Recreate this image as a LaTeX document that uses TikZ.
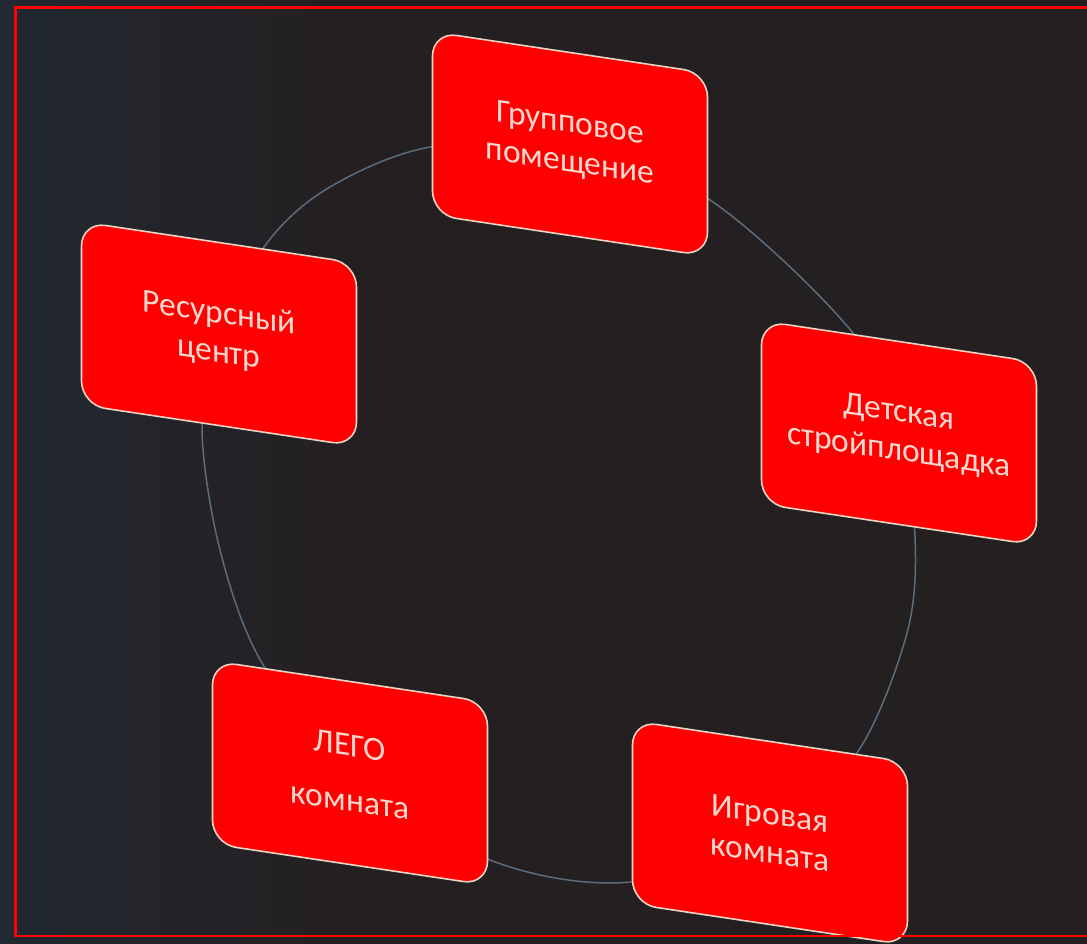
\documentclass[tikz,border=0pt]{standalone}
\usepackage{fontspec}
\setmainfont{Carlito}
\pgfdeclarelayer{bg}
\pgfsetlayers{bg,main}
\definecolor{bgmain}{RGB}{36,32,34}
\definecolor{bgblue}{RGB}{34,41,50}
\definecolor{boxred}{RGB}{255,0,0}
\definecolor{boxedge}{RGB}{238,212,196}
\definecolor{txtpink}{RGB}{248,216,206}
\definecolor{ringcol}{RGB}{92,108,124}
\tikzset{
  cbox/.style={draw=boxedge, line width=1.6pt, fill=boxred, rounded corners=24pt,
    minimum width=275pt, minimum height=183pt, inner sep=0pt, align=center,
    text=txtpink, font=\fontsize{33.5}{39}\selectfont, transform shape},
  ring/.style={draw=ringcol, line width=1.5pt},
  frame/.style={draw=red, line width=2.4pt}
}
\begin{document}
\begin{tikzpicture}[x=1pt,y=-1pt]
\useasboundingbox (0,0) rectangle (1087,944);
\clip (0,0) rectangle (1087,944);
% boxes
\begin{scope}[shift={(570,144)}, yslant=-0.15]
  \node[cbox] (n1) at (0,0) {Групповое\\помещение};
\end{scope}
\begin{scope}[shift={(219,334)}, yslant=-0.15]
  \node[cbox] (n2) at (0,0) {Ресурсный\\центр};
\end{scope}
\begin{scope}[shift={(899,433)}, yslant=-0.15]
  \node[cbox] (n3) at (0,0) {Детская\\стройплощадка};
\end{scope}
\begin{scope}[shift={(350,773)}, yslant=-0.15]
  \node[cbox] (n4) at (0,0) {ЛЕГО\\[16pt]комната};
\end{scope}
\begin{scope}[shift={(770,833)}, yslant=-0.15]
  \node[cbox] (n5) at (0,0) {Игровая\\комната};
\end{scope}
\begin{pgfonlayer}{bg}
  \fill[bgmain] (0,0) rectangle (1087,944);
  \shade[left color=bgblue, right color=bgmain] (0,0) rectangle (320,944);
  \draw[ring] plot[smooth cycle, tension=0.55] coordinates {
    (n1.center) (710,200) (853,333) (n3.center) (915,537) (907,633) (857,753)
    (n5.center) (630,882) (490,860) (n4.center) (262,663) (220,550) (202,428)
    (n2.center) (267,243) (330,187) (430,147)};
\end{pgfonlayer}
\draw[frame] (15.5,7.5) rectangle (1100,936);
\end{tikzpicture}
\end{document}
